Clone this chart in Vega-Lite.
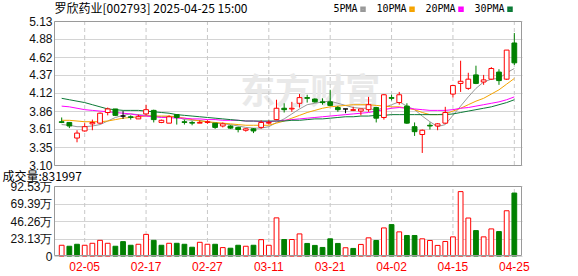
{
"$schema": "https://vega.github.io/schema/vega-lite/v6.json",
"autosize": {"type": "none"},
"width": 468, "height": 235,
"padding": {"left": 54, "top": 21, "right": 56, "bottom": 20},
"background": "#ffffff",
"config": {
  "view": {"stroke": null},
  "font": "Liberation Sans",
  "axis": {"labelOverlap": false, "labelBound": false, "labelFlush": false},
  "axisY": {"labelOverlap": false, "labelBound": false, "labelFlush": false, "tickCount": 30, "ticks": false, "domain": false, "labelFont": "Liberation Sans", "labelFontSize": 12, "labelColor": "#111111", "labelPadding": 2, "gridColor": "#d4d4d4"}
},
"datasets": {
"k": [
{"d":"2025-01-23","o":3.71,"h":3.77,"l":3.69,"c":3.70,"v":14.2,"ma5":3.67,"ma10":3.73,"ma20":3.93,"ma30":4.04},
{"d":"2025-01-24","o":3.70,"h":3.70,"l":3.62,"c":3.65,"v":12.9,"ma5":3.66,"ma10":3.73,"ma20":3.92,"ma30":4.02},
{"d":"2025-01-27","o":3.48,"h":3.59,"l":3.42,"c":3.55,"v":15.5,"ma5":3.64,"ma10":3.72,"ma20":3.90,"ma30":4.00},
{"d":"2025-02-05","o":3.58,"h":3.69,"l":3.57,"c":3.64,"v":14.2,"ma5":3.64,"ma10":3.71,"ma20":3.88,"ma30":3.98},
{"d":"2025-02-06","o":3.68,"h":3.74,"l":3.59,"c":3.70,"v":16.8,"ma5":3.65,"ma10":3.71,"ma20":3.87,"ma30":3.95},
{"d":"2025-02-07","o":3.69,"h":3.84,"l":3.68,"c":3.83,"v":20.7,"ma5":3.67,"ma10":3.71,"ma20":3.86,"ma30":3.92},
{"d":"2025-02-10","o":3.84,"h":3.91,"l":3.80,"c":3.89,"v":16.8,"ma5":3.72,"ma10":3.72,"ma20":3.85,"ma30":3.89},
{"d":"2025-02-11","o":3.89,"h":3.89,"l":3.79,"c":3.80,"v":12.9,"ma5":3.77,"ma10":3.74,"ma20":3.84,"ma30":3.88},
{"d":"2025-02-12","o":3.79,"h":3.86,"l":3.75,"c":3.79,"v":19.0,"ma5":3.80,"ma10":3.76,"ma20":3.83,"ma30":3.87},
{"d":"2025-02-13","o":3.78,"h":3.80,"l":3.74,"c":3.77,"v":14.2,"ma5":3.82,"ma10":3.77,"ma20":3.82,"ma30":3.87},
{"d":"2025-02-14","o":3.75,"h":3.81,"l":3.75,"c":3.78,"v":15.5,"ma5":3.81,"ma10":3.78,"ma20":3.80,"ma30":3.87},
{"d":"2025-02-17","o":3.82,"h":3.95,"l":3.80,"c":3.88,"v":28.6,"ma5":3.80,"ma10":3.79,"ma20":3.79,"ma30":3.86},
{"d":"2025-02-18","o":3.87,"h":3.88,"l":3.70,"c":3.74,"v":20.7,"ma5":3.79,"ma10":3.79,"ma20":3.78,"ma30":3.85},
{"d":"2025-02-19","o":3.70,"h":3.74,"l":3.69,"c":3.73,"v":14.2,"ma5":3.78,"ma10":3.79,"ma20":3.77,"ma30":3.84},
{"d":"2025-02-20","o":3.69,"h":3.80,"l":3.69,"c":3.78,"v":16.8,"ma5":3.78,"ma10":3.79,"ma20":3.77,"ma30":3.83},
{"d":"2025-02-21","o":3.81,"h":3.81,"l":3.67,"c":3.77,"v":16.8,"ma5":3.78,"ma10":3.78,"ma20":3.76,"ma30":3.81},
{"d":"2025-02-24","o":3.71,"h":3.74,"l":3.67,"c":3.70,"v":15.5,"ma5":3.74,"ma10":3.76,"ma20":3.76,"ma30":3.80},
{"d":"2025-02-25","o":3.70,"h":3.72,"l":3.66,"c":3.69,"v":11.6,"ma5":3.73,"ma10":3.74,"ma20":3.75,"ma30":3.79},
{"d":"2025-02-26","o":3.69,"h":3.73,"l":3.69,"c":3.70,"v":18.1,"ma5":3.73,"ma10":3.72,"ma20":3.75,"ma30":3.78},
{"d":"2025-02-27","o":3.70,"h":3.73,"l":3.68,"c":3.71,"v":15.5,"ma5":3.71,"ma10":3.71,"ma20":3.74,"ma30":3.77},
{"d":"2025-02-28","o":3.69,"h":3.69,"l":3.61,"c":3.63,"v":15.5,"ma5":3.69,"ma10":3.70,"ma20":3.74,"ma30":3.76},
{"d":"2025-03-03","o":3.65,"h":3.70,"l":3.63,"c":3.68,"v":11.1,"ma5":3.68,"ma10":3.69,"ma20":3.73,"ma30":3.75},
{"d":"2025-03-04","o":3.65,"h":3.66,"l":3.61,"c":3.62,"v":10.3,"ma5":3.67,"ma10":3.68,"ma20":3.73,"ma30":3.74},
{"d":"2025-03-05","o":3.63,"h":3.64,"l":3.56,"c":3.60,"v":14.2,"ma5":3.65,"ma10":3.67,"ma20":3.73,"ma30":3.73},
{"d":"2025-03-06","o":3.59,"h":3.62,"l":3.57,"c":3.61,"v":12.9,"ma5":3.63,"ma10":3.66,"ma20":3.72,"ma30":3.72},
{"d":"2025-03-07","o":3.61,"h":3.62,"l":3.55,"c":3.58,"v":14.2,"ma5":3.62,"ma10":3.66,"ma20":3.72,"ma30":3.72},
{"d":"2025-03-10","o":3.63,"h":3.73,"l":3.61,"c":3.70,"v":21.6,"ma5":3.62,"ma10":3.66,"ma20":3.71,"ma30":3.72},
{"d":"2025-03-11","o":3.69,"h":3.73,"l":3.67,"c":3.70,"v":14.2,"ma5":3.64,"ma10":3.66,"ma20":3.71,"ma30":3.72},
{"d":"2025-03-12","o":3.74,"h":4.02,"l":3.73,"c":3.90,"v":50.4,"ma5":3.70,"ma10":3.69,"ma20":3.72,"ma30":3.72},
{"d":"2025-03-13","o":3.90,"h":3.97,"l":3.84,"c":3.88,"v":21.8,"ma5":3.75,"ma10":3.72,"ma20":3.73,"ma30":3.72},
{"d":"2025-03-14","o":3.89,"h":3.99,"l":3.85,"c":3.90,"v":21.8,"ma5":3.82,"ma10":3.76,"ma20":3.74,"ma30":3.73},
{"d":"2025-03-17","o":3.97,"h":4.10,"l":3.91,"c":4.05,"v":29.2,"ma5":3.89,"ma10":3.80,"ma20":3.75,"ma30":3.73},
{"d":"2025-03-18","o":4.05,"h":4.09,"l":3.98,"c":4.04,"v":16.6,"ma5":3.95,"ma10":3.84,"ma20":3.76,"ma30":3.74},
{"d":"2025-03-19","o":4.03,"h":4.04,"l":3.98,"c":3.99,"v":14.0,"ma5":3.97,"ma10":3.87,"ma20":3.77,"ma30":3.75},
{"d":"2025-03-20","o":3.99,"h":4.04,"l":3.95,"c":3.98,"v":11.3,"ma5":3.99,"ma10":3.90,"ma20":3.78,"ma30":3.75},
{"d":"2025-03-21","o":3.99,"h":4.16,"l":3.93,"c":3.94,"v":22.7,"ma5":4.00,"ma10":3.92,"ma20":3.79,"ma30":3.76},
{"d":"2025-03-24","o":3.91,"h":3.93,"l":3.85,"c":3.88,"v":16.6,"ma5":3.97,"ma10":3.93,"ma20":3.80,"ma30":3.77},
{"d":"2025-03-25","o":3.89,"h":3.89,"l":3.83,"c":3.89,"v":10.9,"ma5":3.94,"ma10":3.94,"ma20":3.81,"ma30":3.78},
{"d":"2025-03-26","o":3.87,"h":3.92,"l":3.86,"c":3.88,"v":10.0,"ma5":3.91,"ma10":3.95,"ma20":3.82,"ma30":3.78},
{"d":"2025-03-27","o":3.86,"h":3.89,"l":3.80,"c":3.89,"v":15.3,"ma5":3.90,"ma10":3.95,"ma20":3.83,"ma30":3.79},
{"d":"2025-03-28","o":3.88,"h":4.06,"l":3.85,"c":3.95,"v":24.0,"ma5":3.90,"ma10":3.95,"ma20":3.84,"ma30":3.79},
{"d":"2025-03-31","o":3.91,"h":3.92,"l":3.70,"c":3.76,"v":20.5,"ma5":3.87,"ma10":3.94,"ma20":3.86,"ma30":3.80},
{"d":"2025-04-01","o":3.77,"h":4.10,"l":3.74,"c":4.09,"v":37.1,"ma5":3.91,"ma10":3.93,"ma20":3.88,"ma30":3.80},
{"d":"2025-04-02","o":4.05,"h":4.09,"l":4.01,"c":4.04,"v":41.5,"ma5":3.95,"ma10":3.92,"ma20":3.90,"ma30":3.81},
{"d":"2025-04-03","o":3.98,"h":4.13,"l":3.95,"c":4.09,"v":31.9,"ma5":3.99,"ma10":3.92,"ma20":3.91,"ma30":3.81},
{"d":"2025-04-07","o":3.93,"h":3.97,"l":3.68,"c":3.69,"v":27.1,"ma5":3.93,"ma10":3.90,"ma20":3.90,"ma30":3.81},
{"d":"2025-04-08","o":3.64,"h":3.70,"l":3.51,"c":3.57,"v":27.1,"ma5":3.88,"ma10":3.88,"ma20":3.89,"ma30":3.81},
{"d":"2025-04-09","o":3.53,"h":3.60,"l":3.27,"c":3.59,"v":22.7,"ma5":3.79,"ma10":3.84,"ma20":3.88,"ma30":3.81},
{"d":"2025-04-10","o":3.66,"h":3.70,"l":3.60,"c":3.65,"v":20.5,"ma5":3.71,"ma10":3.81,"ma20":3.87,"ma30":3.81},
{"d":"2025-04-11","o":3.65,"h":3.69,"l":3.59,"c":3.68,"v":14.0,"ma5":3.64,"ma10":3.81,"ma20":3.87,"ma30":3.81},
{"d":"2025-04-14","o":3.69,"h":3.92,"l":3.68,"c":3.84,"v":19.2,"ma5":3.67,"ma10":3.82,"ma20":3.87,"ma30":3.81},
{"d":"2025-04-15","o":4.10,"h":4.22,"l":4.05,"c":4.22,"v":25.3,"ma5":3.80,"ma10":3.86,"ma20":3.88,"ma30":3.82},
{"d":"2025-04-16","o":4.25,"h":4.57,"l":4.13,"c":4.28,"v":85.1,"ma5":3.93,"ma10":3.90,"ma20":3.90,"ma30":3.84},
{"d":"2025-04-17","o":4.18,"h":4.40,"l":4.16,"c":4.31,"v":50.2,"ma5":4.06,"ma10":3.95,"ma20":3.91,"ma30":3.86},
{"d":"2025-04-18","o":4.37,"h":4.50,"l":4.24,"c":4.25,"v":33.6,"ma5":4.18,"ma10":4.00,"ma20":3.93,"ma30":3.88},
{"d":"2025-04-21","o":4.27,"h":4.37,"l":4.23,"c":4.30,"v":25.3,"ma5":4.27,"ma10":4.04,"ma20":3.95,"ma30":3.90},
{"d":"2025-04-22","o":4.31,"h":4.48,"l":4.30,"c":4.46,"v":35.8,"ma5":4.31,"ma10":4.10,"ma20":3.97,"ma30":3.92},
{"d":"2025-04-23","o":4.41,"h":4.45,"l":4.23,"c":4.29,"v":32.3,"ma5":4.32,"ma10":4.16,"ma20":3.99,"ma30":3.95},
{"d":"2025-04-24","o":4.31,"h":4.72,"l":4.30,"c":4.72,"v":59.8,"ma5":4.40,"ma10":4.24,"ma20":4.02,"ma30":3.98},
{"d":"2025-04-25","o":4.82,"h":4.96,"l":4.51,"c":4.54,"v":83.2,"ma5":4.46,"ma10":4.32,"ma20":4.06,"ma30":4.02}
],
"g": [{"d":"2025-02-05"},{"d":"2025-02-17"},{"d":"2025-02-27"},{"d":"2025-03-11"},{"d":"2025-03-21"},{"d":"2025-04-02"},{"d":"2025-04-15"},{"d":"2025-04-25"}]
},
"data": {"name": "k"},
"encoding": {
  "x": {"field": "d", "type": "ordinal", "scale": {"type": "band", "paddingInner": 0, "paddingOuter": 0.5},
    "axis": {"orient": "bottom", "title": null, "values": ["2025-02-05","2025-02-17","2025-02-27","2025-03-11","2025-03-21","2025-04-02","2025-04-15","2025-04-25"], "labelExpr": "slice(datum.label, 5)", "labelColor": "#ff0000", "labelFont": "Liberation Sans", "labelFontSize": 12, "labelAngle": 0, "labelPadding": 5, "ticks": false, "domain": false, "grid": false}}
},
"layer": [
  {
    "layer": [
      {
        "data": {"values": [{"t": "东方财富"}]},
        "mark": {"type": "text", "font": "Noto Sans CJK SC", "fontSize": 35, "fontWeight": "bold", "color": "#e9e9e9", "baseline": "middle", "align": "center", "dx": 3},
        "encoding": {
          "x": {"datum": "2025-03-18"},
          "y": {"datum": 4.12, "type": "quantitative",
            "scale": {"domain": [3.10, 5.13], "range": [144, 0], "nice": false, "zero": false},
            "axis": {"orient": "left", "title": "罗欣药业[002793] 2025-04-25 15:00", "titleAngle": 0, "titleAlign": "left", "titleBaseline": "middle", "titleX": 0, "titleY": -13, "titleFont": "Noto Sans CJK SC", "titleFontSize": 12, "titleFontWeight": "normal", "titleColor": "#000000", "values": [3.10, 3.35, 3.61, 3.86, 4.12, 4.37, 4.62, 4.88, 5.13], "tickCount": 30, "format": ".2f", "labelOverlap": false, "labelBound": false, "grid": true}},
          "text": {"field": "t"}
        }
      },
      {
        "data": {"name": "g"},
        "mark": {"type": "rule", "stroke": "#c8c8c8", "strokeWidth": 1, "strokeDash": [4, 3]},
        "encoding": {
          "y": {"datum": 3.10, "type": "quantitative"},
          "y2": {"datum": 5.13}
        }
      },
      {
        "transform": [{"fold": ["ma5", "ma10", "ma20", "ma30"], "as": ["ma", "val"]}],
        "mark": {"type": "line", "strokeWidth": 1},
        "encoding": {
          "y": {"field": "val", "type": "quantitative"},
          "color": {"field": "ma", "type": "nominal",
            "scale": {"domain": ["ma5", "ma10", "ma20", "ma30"], "range": ["#999999", "#f5a300", "#ff00ff", "#0b7a36"]},
            "legend": {"orient": "none", "legendX": 304, "legendY": -17, "direction": "horizontal", "title": null, "symbolType": "square", "symbolSize": 9, "symbolStrokeWidth": 2.5, "labelAlign": "right", "labelOffset": -10.5, "columnPadding": 6, "labelFont": "DejaVu Sans Mono", "labelFontSize": 10, "labelColor": "#000000", "labelExpr": "{'ma5':'5PMA','ma10':'10PMA','ma20':'20PMA','ma30':'30PMA'}[datum.value]"}}
        }
      },
      {
        "mark": {"type": "rule", "strokeWidth": 1},
        "encoding": {
          "y": {"field": "l", "type": "quantitative"},
          "y2": {"field": "h"},
          "color": {"condition": [{"test": "datum.c > datum.o", "value": "#ff0000"}, {"test": "datum.c < datum.o", "value": "#008000"}], "value": "#000000"}
        }
      },
      {
        "mark": {"type": "bar", "width": {"band": 0.62}, "strokeWidth": 1},
        "encoding": {
          "y": {"field": "o", "type": "quantitative"},
          "y2": {"field": "c"},
          "fill": {"condition": [{"test": "datum.c > datum.o", "value": "#ffffff"}, {"test": "datum.c < datum.o", "value": "#008000"}], "value": "#000000"},
          "stroke": {"condition": [{"test": "datum.c > datum.o", "value": "#ff0000"}, {"test": "datum.c < datum.o", "value": "#008000"}], "value": "#000000"}
        }
      },
      {
        "data": {"values": [{}]},
        "mark": {"type": "rect", "fill": null, "stroke": "#9a9a9a", "strokeWidth": 1, "xOffset": 0.5, "x2Offset": -0.5, "yOffset": 0.5, "y2Offset": 0.5},
        "encoding": {
          "x": {"value": 0},
          "x2": {"value": "width"},
          "y": {"datum": 5.13, "type": "quantitative"},
          "y2": {"datum": 3.10}
        }
      }
    ]
  },
  {
    "layer": [
      {
        "data": {"name": "g"},
        "mark": {"type": "rule", "stroke": "#c8c8c8", "strokeWidth": 1, "strokeDash": [4, 3]},
        "encoding": {
          "y": {"datum": 0, "type": "quantitative",
            "scale": {"domain": [0, 92.53], "range": [235, 165], "nice": false, "zero": false},
            "axis": {"orient": "left", "title": "成交量:831997", "titleAngle": 0, "titleAlign": "left", "titleBaseline": "middle", "titleX": -52, "titleY": 155, "titleFont": "Noto Sans CJK SC", "titleFontSize": 12, "titleFontWeight": "normal", "titleColor": "#000000", "values": [0, 23.13, 46.26, 69.39, 92.53], "tickCount": 30, "labelExpr": "datum.value == 0 ? '0' : format(datum.value, '.2f') + '万'", "labelOverlap": false, "labelBound": false, "grid": true}},
          "y2": {"datum": 92.53}
        }
      },
      {
        "transform": [{"window": [{"op": "lag", "field": "c", "as": "pc"}], "sort": [{"field": "d", "order": "ascending"}]}],
        "mark": {"type": "bar", "width": {"band": 0.62}, "strokeWidth": 1},
        "encoding": {
          "y": {"field": "v", "type": "quantitative", "stack": null},
          "fill": {"condition": {"test": "datum.pc == null || datum.c >= datum.pc", "value": "#ffffff"}, "value": "#008000"},
          "stroke": {"condition": {"test": "datum.pc == null || datum.c >= datum.pc", "value": "#ff0000"}, "value": "#008000"}
        }
      },
      {
        "data": {"values": [{}]},
        "mark": {"type": "rect", "fill": null, "stroke": "#9a9a9a", "strokeWidth": 1, "xOffset": 0.5, "x2Offset": -0.5, "yOffset": 0.5, "y2Offset": -0.5},
        "encoding": {
          "x": {"value": 0},
          "x2": {"value": "width"},
          "y": {"datum": 92.53, "type": "quantitative"},
          "y2": {"datum": 0}
        }
      }
    ]
  }
],
"resolve": {"scale": {"y": "independent"}}
}
